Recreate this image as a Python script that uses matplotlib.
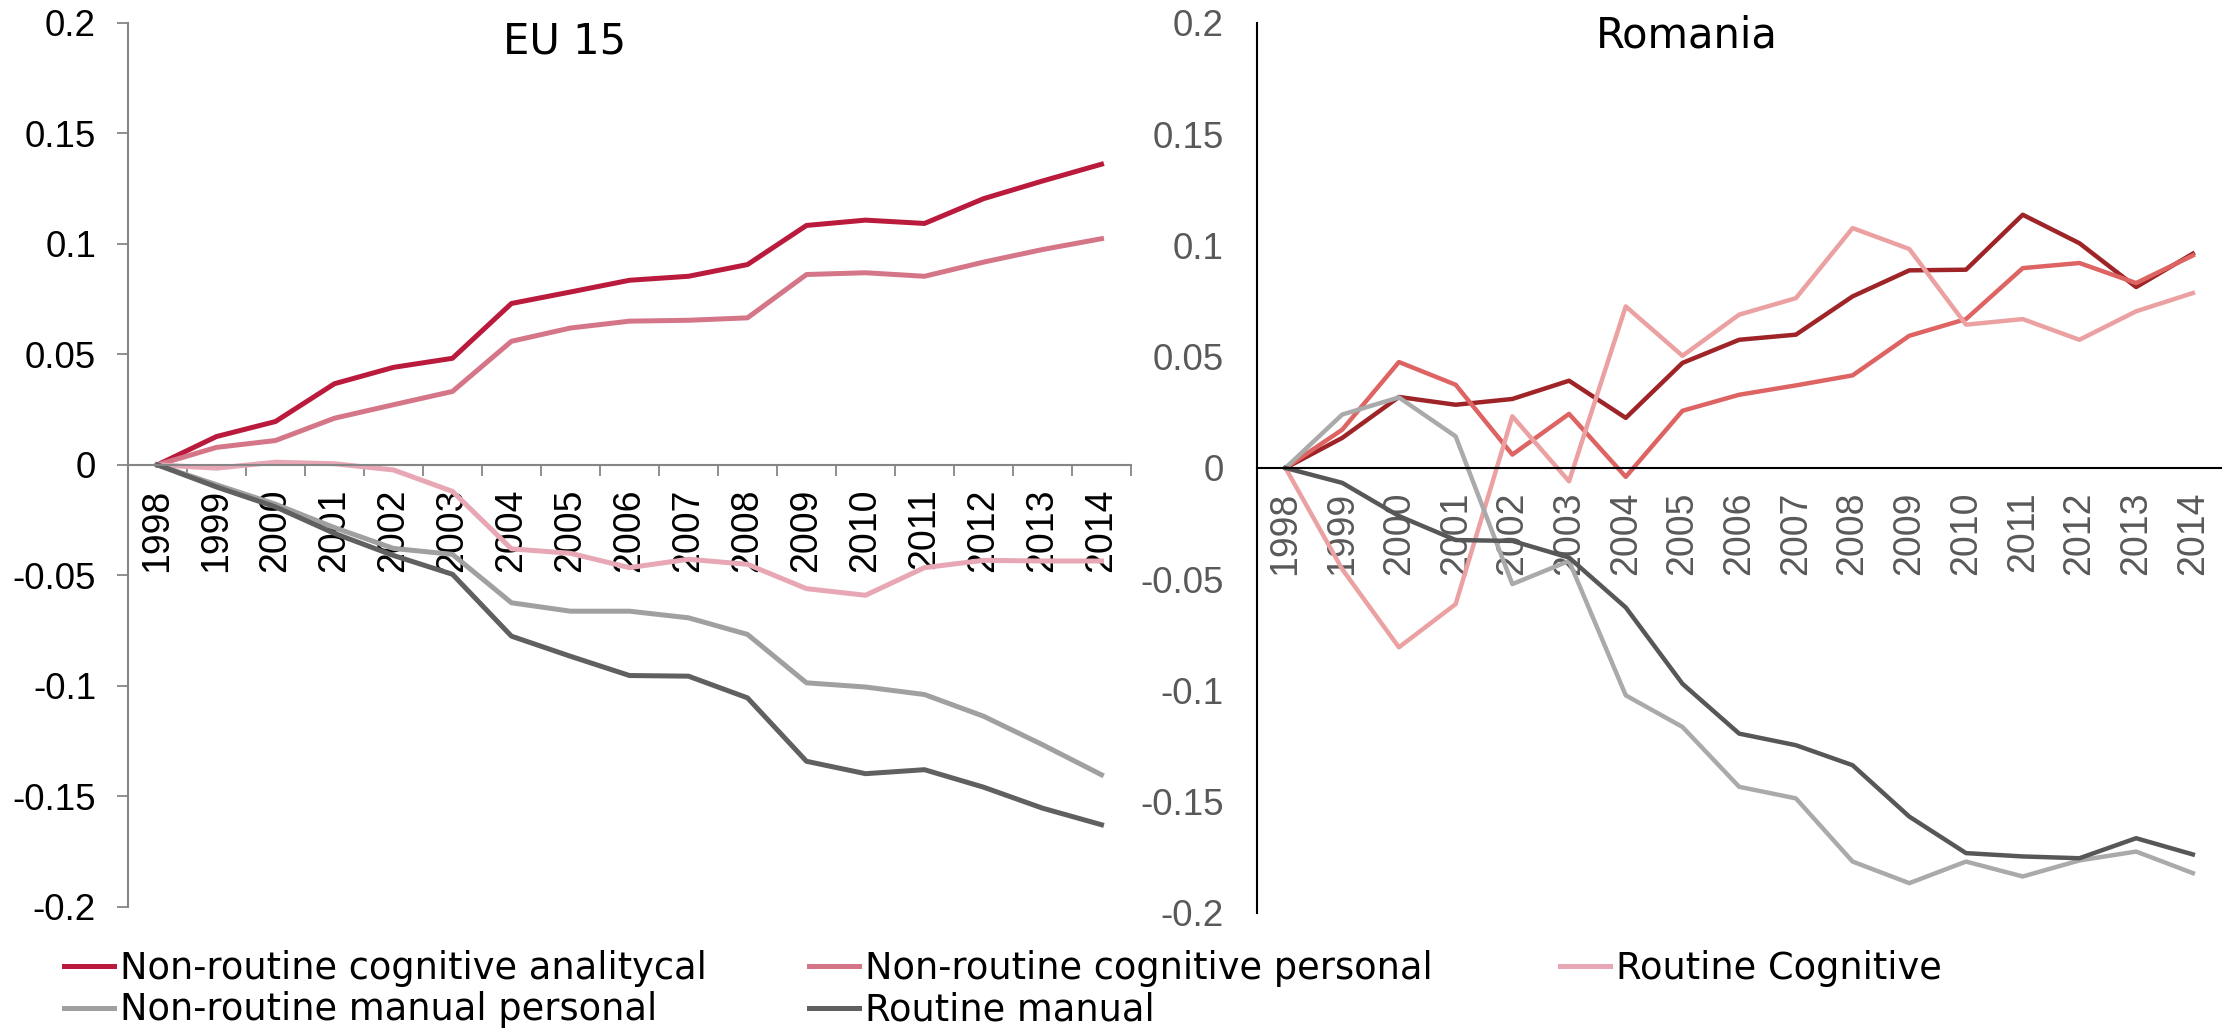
import matplotlib.pyplot as plt
import numpy as np

years = [str(y) for y in range(1998, 2015)]

labels = ["Non-routine cognitive analitycal", "Non-routine cognitive personal",
          "Routine Cognitive", "Non-routine manual personal", "Routine manual"]

# EU 15
eu_analytical = [0, 0.0128, 0.0196, 0.0367, 0.0441, 0.0482, 0.073, 0.0782, 0.0835,
                 0.0853, 0.0906, 0.1083, 0.1107, 0.1092, 0.1204, 0.1284, 0.136]
eu_personal = [0, 0.0079, 0.011, 0.0211, 0.0272, 0.0332, 0.0559, 0.0619, 0.065,
               0.0654, 0.0665, 0.0861, 0.0869, 0.0853, 0.0917, 0.0974, 0.1023]
eu_routine_cog = [0, -0.0015, 0.0012, 0.0005, -0.0023, -0.012, -0.038, -0.040, -0.0465,
                  -0.0427, -0.045, -0.056, -0.059, -0.0465, -0.0432, -0.0435, -0.0435]
eu_manual_pers = [0, -0.009, -0.0178, -0.0284, -0.0378, -0.0405, -0.0624, -0.0662, -0.0662,
                  -0.0692, -0.0767, -0.0986, -0.1005, -0.1039, -0.1137, -0.1266, -0.1402]
eu_routine_man = [0, -0.010, -0.019, -0.031, -0.041, -0.0495, -0.0775, -0.0866, -0.0953,
                  -0.0956, -0.1054, -0.1341, -0.1397, -0.1379, -0.1458, -0.1553, -0.1628]

# Romania
ro_analytical = [0, 0.0135, 0.0319, 0.0284, 0.031, 0.0392, 0.0225, 0.0472, 0.0576,
                 0.0599, 0.0771, 0.0888, 0.0891, 0.1138, 0.101, 0.0813, 0.0963]
ro_personal = [0, 0.0172, 0.0476, 0.0374, 0.006, 0.0243, -0.004, 0.0257, 0.0329,
               0.0371, 0.0416, 0.0594, 0.0669, 0.0898, 0.0921, 0.0831, 0.0955]
ro_routine_cog = [0, -0.0455, -0.0806, -0.0612, 0.0232, -0.006, 0.0726, 0.0504, 0.0689,
                  0.0763, 0.1078, 0.0984, 0.0644, 0.0669, 0.0576, 0.0704, 0.0786]
ro_manual_pers = [0, 0.024, 0.0317, 0.0142, -0.0522, -0.0418, -0.1022, -0.1164, -0.1433,
                  -0.1485, -0.1769, -0.1866, -0.1769, -0.1836, -0.1764, -0.1724, -0.1821]
ro_routine_man = [0, -0.0067, -0.0216, -0.0324, -0.0328, -0.0403, -0.0627, -0.097, -0.1194,
                  -0.1246, -0.1336, -0.1567, -0.1731, -0.1746, -0.1754, -0.1664, -0.1737]

eu_colors = ["#BA1A3B", "#D47688", "#E8A7B4", "#A0A0A0", "#606060"]
ro_colors = ["#9E2428", "#DE6464", "#EBA1A1", "#AAAAAA", "#575757"]

plt.rcParams['font.family'] = ['Liberation Sans', 'DejaVu Sans']

fig = plt.figure(figsize=(22.29, 10.33), dpi=100)
ax1 = fig.add_axes([0.0574, 0.122, 0.45, 0.856])
ax2 = fig.add_axes([0.564, 0.1162, 0.4325, 0.8616])

x = np.arange(len(years))
eu = [eu_analytical, eu_personal, eu_routine_cog, eu_manual_pers, eu_routine_man]
ro = [ro_analytical, ro_personal, ro_routine_cog, ro_manual_pers, ro_routine_man]

handles = []
for s, c, lab in zip(eu, eu_colors, labels):
    h, = ax1.plot(x, s, color=c, lw=3.6, label=lab, solid_joinstyle='round')
    handles.append(h)
for s, c in zip(ro, ro_colors):
    ax2.plot(x, s, color=c, lw=3.2, solid_joinstyle='round')

for ax, spc, tc in [(ax1, "#868686", "black"), (ax2, "black", "#595959")]:
    ax.set_xlim(-0.5, 16.5)
    ax.set_ylim(-0.2, 0.2)
    ax.set_yticks(np.arange(-0.2, 0.201, 0.05))
    ax.set_yticklabels(["-0.2", "-0.15", "-0.1", "-0.05", "0", "0.05", "0.1", "0.15", "0.2"])
    ax.spines['top'].set_visible(False)
    ax.spines['right'].set_visible(False)
    ax.spines['bottom'].set_position(('data', 0))
    ax.spines['left'].set_color(spc)
    ax.spines['bottom'].set_color(spc)
    ax.spines['left'].set_linewidth(1.5)
    ax.spines['bottom'].set_linewidth(1.5)
    ax.set_xticks(x)
    ax.set_xticklabels(years, rotation=90, fontsize=27, color=tc)
    ax.tick_params(axis='x', length=0, pad=17)
    ax.tick_params(axis='y', labelsize=26.5, labelcolor=tc)

ax1.set_xticks(np.arange(-0.5, 17, 1), minor=True)
ax1.tick_params(axis='x', which='minor', length=8, width=1.3, color="#868686", direction='out')
ax1.tick_params(axis='y', length=8, width=1.3, color="#868686", pad=15)
ax2.tick_params(axis='y', length=0, pad=24)

fig.text(565 / 2229, 1 - 42 / 1033, "EU 15", fontsize=30, family='DejaVu Sans',
         ha='center', va='center')
fig.text(1687 / 2229, 1 - 35 / 1033, "Romania", fontsize=30, family='DejaVu Sans',
         ha='center', va='center')

# legend: three columns like the spreadsheet layout
columns = [([0, 3], 64), ([1, 4], 809), ([2], 1560)]
for idx, xpos in columns:
    leg = fig.legend([handles[i] for i in idx], [labels[i] for i in idx],
                     loc='upper left', bbox_to_anchor=(xpos / 2229, 1 - 950 / 1033),
                     frameon=False, prop={'family': 'DejaVu Sans', 'size': 26.5},
                     handlelength=1.35, handletextpad=0.18, labelspacing=0.12,
                     borderpad=0, borderaxespad=0)

fig.savefig("out.png", dpi=100)
